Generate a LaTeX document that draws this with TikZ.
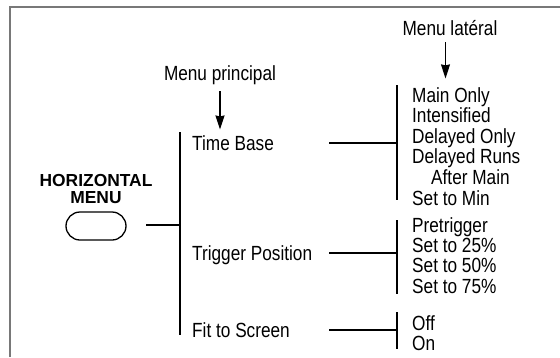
\documentclass[tikz,border=0pt]{standalone}
\usepackage{fontspec}
\setmainfont{Liberation Sans}
\newfontfamily\narrowsans{Liberation Sans}[FakeStretch=0.84]
\usetikzlibrary{arrows.meta}
\definecolor{framegray}{RGB}{120,120,120}
\tikzset{
  entry/.style={font=\narrowsans\fontsize{20.5}{20.4}\selectfont, inner sep=0pt, anchor=base west},
  heading/.style={font=\narrowsans\fontsize{20.5}{20.4}\selectfont, inner sep=0pt, anchor=base},
  branch/.style={line width=2.2pt},
  pointer/.style={line width=1.3pt, -{Stealth[length=14pt,width=9pt,inset=1pt]}}
}

\begin{document}
\begin{tikzpicture}[x=1pt,y=-1pt]
\useasboundingbox (0,0) rectangle (560,357);
\draw[framegray, line width=1.6pt] (10,357) -- (10,7) -- (560,7);
% front panel button
\node[font=\bfseries\fontsize{17.4}{16.6}\selectfont, align=center, inner sep=0pt] (hmenu) at (96,189) {HORIZONTAL\\MENU};
\node[draw, line width=1.3pt, rounded corners=14pt, minimum width=60pt, minimum height=28pt, inner sep=0pt] (button) at (96,226) {};
\coordinate (hstub) at (146,225);
% main menu
\coordinate (mtop) at (180,132);
\coordinate (mbot) at (180,335);
\draw[branch] (mtop) -- (mbot);
\draw[branch] (hstub) -- (hstub -| mtop);
\node[heading] (mp) at (220,80) {Menu principal};
\draw[pointer] ([yshift=-7pt]mp.south) -- ++(0,38);
\node[entry] (tb) at (192,150) {Time Base};
\node[entry] (tp) at (192,260) {Trigger Position};
\node[entry] (fs) at (192,337) {Fit to Screen};
% side menus
\foreach \s/\y/\t/\b in {tb/143/85/200, tp/253/220/294, fs/330/312/349} {
  \coordinate (\s stub) at (329,\y);
  \coordinate (\s top) at (397,\t);
  \coordinate (\s bot) at (397,\b);
  \draw[branch] (\s top) -- (\s bot);
  \draw[branch] (\s stub) -- (\s stub -| \s top);
}
\node[heading] (ml) at (450,35) {Menu latéral};
\draw[pointer] ([xshift=-4.5pt,yshift=-7pt]ml.south) -- ++(0,36);
\foreach \t/\dx [count=\i] in {Main Only/0, Intensified/0, Delayed Only/0, Delayed Runs/0, After Main/19, Set to Min/0}
  \node[entry] (tb\i) at (412+\dx,81.4+20.6*\i) {\t};
\foreach \t [count=\i] in {Pretrigger, Set to 25\%, Set to 50\%, Set to 75\%}
  \node[entry] (tp\i) at (412,211.7+20.4*\i) {\t};
\foreach \t [count=\i] in {Off, On}
  \node[entry] (fs\i) at (412,310+20*\i) {\t};
\end{tikzpicture}
\end{document}
